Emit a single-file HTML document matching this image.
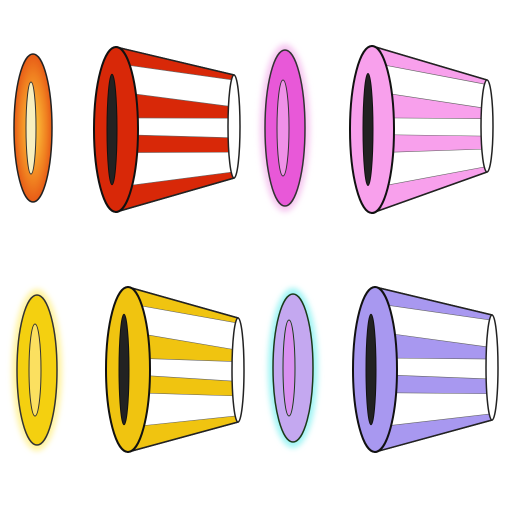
<!DOCTYPE html>
<html><head><meta charset="utf-8"><style>
html,body{margin:0;padding:0;background:#fff;width:512px;height:512px;overflow:hidden}
</style></head><body>
<svg id="s" width="512" height="512" viewBox="0 0 512 512">
<defs>
<radialGradient id="fire" cx="50%" cy="50%" r="60%"><stop offset="0" stop-color="#ffd040"/><stop offset="0.6" stop-color="#f08020"/><stop offset="1" stop-color="#e04010"/></radialGradient>
<filter id="glow" x="-50%" y="-50%" width="200%" height="200%"><feGaussianBlur stdDeviation="3"/></filter>
</defs>
<g>
<ellipse cx="33" cy="128" rx="19" ry="74" fill="url(#fire)" stroke="#222" stroke-width="1.5"/>
<ellipse cx="31" cy="128" rx="5" ry="46" fill="#f8f0c0" stroke="#333" stroke-width="1"/>
</g>
<g>
<ellipse cx="285" cy="128" rx="25" ry="84" fill="#f6c8f0" filter="url(#glow)"/>
<ellipse cx="285" cy="128" rx="20" ry="78" fill="#e858d8" stroke="#333" stroke-width="1.5"/>
<ellipse cx="283" cy="128" rx="6" ry="48" fill="#f090e8" stroke="#333" stroke-width="1"/>
</g>
<g>
<ellipse cx="37" cy="370" rx="25" ry="81" fill="#fff3a0" filter="url(#glow)"/>
<ellipse cx="37" cy="370" rx="20" ry="75" fill="#f4d010" stroke="#333" stroke-width="1.5"/>
<ellipse cx="35" cy="370" rx="6" ry="46" fill="#fbe060" stroke="#333" stroke-width="1"/>
</g>
<g>
<ellipse cx="293" cy="368" rx="25" ry="80" fill="#a0f4f4" filter="url(#glow)"/>
<ellipse cx="293" cy="368" rx="20" ry="74" fill="#c4a8f0" stroke="#1a3a1a" stroke-width="1.5"/>
<ellipse cx="289" cy="368" rx="6" ry="48" fill="#d890f0" stroke="#1a3a1a" stroke-width="1"/>
</g>
<g id="cones"></g>
</svg>
<script>
const cones=[
 {name:'red-cone',x1:116,t1:47,b1:212,rx1:22,x2:234,t2:75,b2:178,c:'#d82808'},
 {name:'pink-cone',x1:372,t1:46,b1:213,rx1:22,x2:487,t2:80,b2:172,c:'#f8a0ec'},
 {name:'yellow-cone',x1:128,t1:287,b1:452,rx1:22,x2:238,t2:318,b2:422,c:'#f0c410'},
 {name:'purple-cone',x1:375,t1:287,b1:452,rx1:22,x2:492,t2:315,b2:420,c:'#a898f0'}
];
const frL=[0,0.10,0.27,0.43,0.53,0.64,0.85,1];
const frR=[0,0.05,0.31,0.42,0.61,0.75,0.94,1];
const NS='http://www.w3.org/2000/svg';
const g=document.getElementById('cones');
function el(t,a,p){const e=document.createElementNS(NS,t);for(const k in a)e.setAttribute(k,a[k]);(p||g).appendChild(e);return e;}
cones.forEach(c=>{
 const grp=el('g',{});
 
 
 const lx=c.x1, rx=c.x2;
 el('path',{d:`M${lx},${c.t1} L${rx},${c.t2} L${rx},${c.b2} L${lx},${c.b1} Z`,fill:'#fff',stroke:'#222','stroke-width':1.5},grp);
 for(let i=0;i<7;i+=2){
  const yl0=c.t1+(c.b1-c.t1)*frL[i], yl1=c.t1+(c.b1-c.t1)*frL[i+1];
  const yr0=c.t2+(c.b2-c.t2)*frR[i], yr1=c.t2+(c.b2-c.t2)*frR[i+1];
  const s=el('path',{d:`M${lx},${yl0} L${rx},${yr0} L${rx},${yr1} L${lx},${yl1} Z`,fill:c.c,stroke:'#666','stroke-width':0.6},grp);
  
  
 }
 el('path',{d:`M${lx},${c.t1} L${rx},${c.t2} M${rx},${c.b2} L${lx},${c.b1}`,fill:'none',stroke:'#222','stroke-width':1.5},grp);
 el('ellipse',{cx:rx,cy:(c.t2+c.b2)/2,rx:6,ry:(c.b2-c.t2)/2,fill:'#fff',stroke:'#222','stroke-width':1.5},grp);
 el('ellipse',{cx:lx,cy:(c.t1+c.b1)/2,rx:c.rx1,ry:(c.b1-c.t1)/2,fill:c.c,stroke:'#111','stroke-width':2},grp);
 el('ellipse',{cx:lx-4,cy:(c.t1+c.b1)/2,rx:5,ry:(c.b1-c.t1)/2*0.67,fill:'#222',stroke:'#111','stroke-width':1},grp);
});
</script>
</body></html>
